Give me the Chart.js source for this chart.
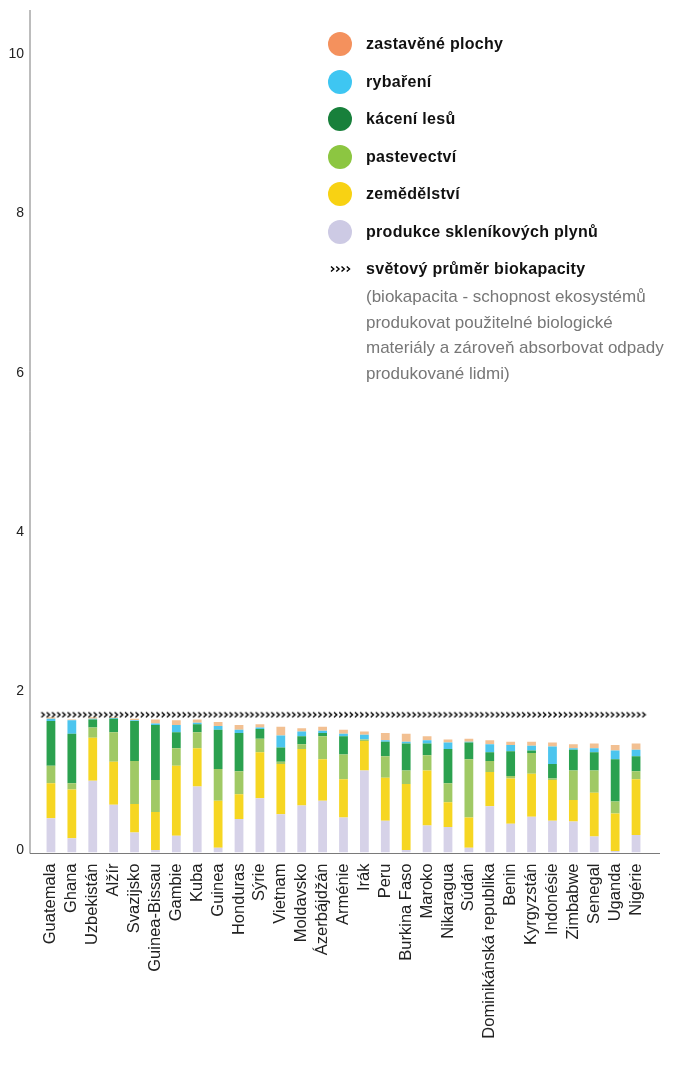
<!DOCTYPE html>
<html lang="cs">
<head>
<meta charset="utf-8">
<title>Ekologická stopa</title>
<script src="https://cdn.jsdelivr.net/npm/chart.js@4.4.1/dist/chart.umd.min.js"></script>
<style>
  html, body { margin: 0; padding: 0; background: #fff; }
  #wrap { position: relative; width: 680px; height: 1065px; overflow: hidden; }
  #chart { position: absolute; left: 0; top: 0; }
  #legend { position: absolute; left: 0; top: 0; font-family: "Liberation Sans", Arial, sans-serif; }
  .item { position: absolute; left: 328px; height: 24px; display: flex; align-items: center; white-space: nowrap; }
  .dot { width: 24px; height: 24px; border-radius: 50%; margin-right: 14px; }
  .mark { width: 24px; margin-right: 14px; display: flex; justify-content: center; }
  .label { font-size: 16px; font-weight: bold; color: #111; letter-spacing: 0.3px; }
  .note { position: absolute; left: 366px; top: 284px; font-size: 17px; line-height: 25.6px; color: #777; white-space: nowrap; }
</style>
</head>
<body>
<div id="wrap">
  <canvas id="chart" width="680" height="1065"></canvas>
  <div id="legend"></div>
</div>
<script>
// ===== DATA =====
const countries = [
  'Guatemala', 'Ghana', 'Uzbekistán', 'Alžír', 'Svazijsko', 'Guinea-Bissau', 'Gambie', 'Kuba',
  'Guinea', 'Honduras', 'Sýrie', 'Vietnam', 'Moldavsko', 'Ázerbájdžán', 'Arménie', 'Irák',
  'Peru', 'Burkina Faso', 'Maroko', 'Nikaragua', 'Súdán', 'Dominikánská republika', 'Benin',
  'Kyrgyzstán', 'Indonésie', 'Zimbabwe', 'Senegal', 'Uganda', 'Nigérie'
];

// values in global hectares per person, stacked bottom -> top
const carbon  = [0.43, 0.18, 0.90, 0.60, 0.25, 0.03, 0.21, 0.83, 0.06, 0.42, 0.68, 0.48, 0.59, 0.65, 0.44, 1.03, 0.40, 0.03, 0.34, 0.32, 0.06, 0.58, 0.36, 0.45, 0.40, 0.39, 0.20, 0.02, 0.22];
const crop    = [0.44, 0.61, 0.54, 0.54, 0.36, 0.48, 0.88, 0.48, 0.59, 0.31, 0.58, 0.63, 0.71, 0.52, 0.48, 0.37, 0.54, 0.83, 0.69, 0.31, 0.38, 0.43, 0.57, 0.54, 0.51, 0.27, 0.55, 0.47, 0.70];
const grazing = [0.22, 0.08, 0.13, 0.37, 0.54, 0.40, 0.22, 0.20, 0.40, 0.29, 0.17, 0.03, 0.06, 0.29, 0.31, 0.02, 0.27, 0.17, 0.19, 0.24, 0.73, 0.14, 0.03, 0.26, 0.02, 0.37, 0.28, 0.15, 0.10];
const forest  = [0.56, 0.62, 0.10, 0.17, 0.50, 0.69, 0.20, 0.10, 0.49, 0.48, 0.12, 0.18, 0.10, 0.04, 0.23, 0.00, 0.18, 0.34, 0.15, 0.43, 0.21, 0.11, 0.31, 0.03, 0.18, 0.26, 0.23, 0.53, 0.19];
const fishing = [0.03, 0.17, 0.01, 0.01, 0.01, 0.02, 0.09, 0.02, 0.05, 0.04, 0.02, 0.15, 0.06, 0.03, 0.03, 0.06, 0.02, 0.02, 0.04, 0.08, 0.01, 0.10, 0.08, 0.06, 0.22, 0.02, 0.05, 0.11, 0.08];
const builtUp = [0.02, 0.01, 0.02, 0.01, 0.02, 0.05, 0.06, 0.04, 0.05, 0.06, 0.04, 0.11, 0.04, 0.05, 0.05, 0.04, 0.09, 0.10, 0.05, 0.04, 0.04, 0.05, 0.04, 0.05, 0.05, 0.05, 0.06, 0.07, 0.08];

const worldAvg = 1.73;
const yMax = 10.58;
const yStep = 2;

const seriesNames  = ['produkce skleníkových plynů', 'zemědělství', 'pastevectví', 'kácení lesů', 'rybaření', 'zastavěné plochy'];
const seriesValues = [carbon, crop, grazing, forest, fishing, builtUp];
const barColors    = ['#D6D2E8', '#F6D622', '#A0C965', '#2BA14F', '#4CC5EE', '#F2C092'];
const dotColors    = ['#CDCAE4', '#F8D213', '#8CC641', '#18803B', '#3EC6F2', '#F4915D'];
const avgName = 'světový průměr biokapacity';
const noteLines = [
  '(biokapacita - schopnost ekosystémů',
  'produkovat použitelné biologické',
  'materiály a zároveň absorbovat odpady',
  'produkované lidmi)'
];

const FONT = '"Liberation Sans", Arial, sans-serif';

// ===== CHEVRON MARK ( >>>> ) =====
function makeChevrons(w) {
  const c = document.createElement('canvas');
  c.width = w;
  c.height = 8;
  const g = c.getContext('2d');
  g.strokeStyle = '#000';
  g.lineWidth = 1.4;
  for (let k = 0; k < 4; k++) {
    const x0 = 1 + k * (w / 4);
    g.beginPath();
    g.moveTo(x0, 1.5);
    g.lineTo(x0 + 2.8, 4);
    g.lineTo(x0, 6.5);
    g.stroke();
  }
  return c;
}
const chevrons = makeChevrons(21);

// ===== AXIS LINES =====
const axisLines = {
  id: 'axisLines',
  afterDatasetsDraw(chart) {
    const { ctx, chartArea, scales } = chart;
    const x0 = chartArea.left - 10.5;
    const yBase = Math.round(scales.y.getPixelForValue(0)) + 0.5;
    ctx.save();
    ctx.strokeStyle = '#7a7a7a';
    ctx.lineWidth = 1;
    ctx.beginPath();
    ctx.moveTo(x0, chartArea.top);
    ctx.lineTo(x0, yBase);
    ctx.lineTo(chartArea.right + 13.5, yBase);
    ctx.stroke();
    ctx.restore();
  }
};

// ===== CHART =====
const datasets = seriesValues.map((vals, i) => ({
  label: seriesNames[i],
  data: vals,
  backgroundColor: barColors[i],
  borderWidth: 0,
  stack: 'footprint',
  categoryPercentage: 1,
  barPercentage: 0.42
}));

datasets.push({
  type: 'line',
  label: avgName,
  data: countries.map(() => worldAvg),
  stack: 'avg',
  showLine: false,
  pointStyle: chevrons,
  pointRadius: 3,
  order: -1
});

new Chart(document.getElementById('chart'), {
  type: 'bar',
  data: { labels: countries, datasets },
  options: {
    responsive: false,
    animation: false,
    layout: { padding: { top: 10, right: 33.5, left: 0, bottom: 0 } },
    plugins: { legend: { display: false }, tooltip: { enabled: false } },
    scales: {
      x: {
        stacked: true,
        grid: { display: false, drawTicks: false },
        border: { display: false },
        ticks: {
          autoSkip: false, minRotation: 90, maxRotation: 90, padding: 11,
          color: '#222', font: { family: FONT, size: 16.5 }
        },
        afterFit: s => {
          s.height = 212.5;
          s.paddingLeft = 0; s.paddingRight = 0;
        }
      },
      y: {
        stacked: true,
        min: 0,
        max: yMax,
        grid: { display: false, drawTicks: false },
        border: { display: false },
        ticks: {
          stepSize: yStep, includeBounds: false, padding: 16.5, labelOffset: -2,
          color: '#222', font: { family: FONT, size: 14 }
        },
        afterFit: s => {
          s.width = 40.5;
          s.paddingTop = 0; s.paddingBottom = 0;
        }
      }
    }
  },
  plugins: [axisLines]
});

// ===== LEGEND =====
const legend = document.getElementById('legend');
const rowTop = 32;
const rowGap = 37.5;
for (let i = seriesNames.length - 1, r = 0; i >= 0; i--, r++) {
  const item = document.createElement('div');
  item.className = 'item';
  item.style.top = (rowTop + r * rowGap) + 'px';
  item.innerHTML = `<span class="dot" style="background:${dotColors[i]}"></span><span class="label">${seriesNames[i]}</span>`;
  legend.appendChild(item);
}
const avgItem = document.createElement('div');
avgItem.className = 'item';
avgItem.style.top = (rowTop + seriesNames.length * rowGap) + 'px';
const mark = document.createElement('span');
mark.className = 'mark';
mark.appendChild(makeChevrons(21));
avgItem.appendChild(mark);
avgItem.insertAdjacentHTML('beforeend', `<span class="label">${avgName}</span>`);
legend.appendChild(avgItem);

const note = document.createElement('div');
note.className = 'note';
note.innerHTML = noteLines.join('<br>');
legend.appendChild(note);
</script>
</body>
</html>
